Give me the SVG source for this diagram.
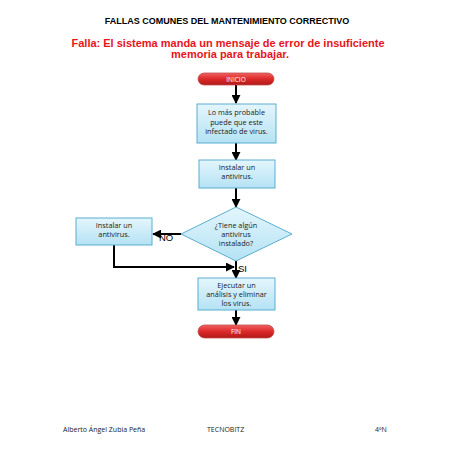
<svg xmlns="http://www.w3.org/2000/svg" width="453" height="453" viewBox="0 0 453 453">
<defs>
<linearGradient id="gBox" x1="0" y1="0" x2="0" y2="1"><stop offset="0" stop-color="#e4f6fc"/><stop offset="1" stop-color="#b4e2f4"/></linearGradient>
<linearGradient id="gRed" x1="0" y1="0" x2="0" y2="1"><stop offset="0" stop-color="#f06060"/><stop offset="0.5" stop-color="#dc2a2a"/><stop offset="1" stop-color="#b01818"/></linearGradient>
<marker id="ah" viewBox="0 0 10 10" refX="9" refY="5" markerWidth="4.5" markerHeight="4.5" orient="auto"><path d="M0,0 L10,5 L0,10 z" fill="#000"/></marker>
</defs>
<style>
.box{fill:url(#gBox);stroke:#5aaed0;stroke-width:1}
.pill{fill:url(#gRed);stroke:#c0504d;stroke-width:0.8}
.t{font-family:"Open Sans","Liberation Sans",sans-serif;font-size:7.3px;fill:#1a1a1a;text-anchor:middle}
.tw{font-family:"Open Sans","Liberation Sans",sans-serif;font-size:6.5px;fill:#fff;text-anchor:middle}
.c{fill:none;stroke:#000;stroke-width:2;marker-end:url(#ah)}
.lbl{font-family:"Liberation Sans",sans-serif;font-size:9.5px;fill:#000}
.f{font-family:"Open Sans","Liberation Sans",sans-serif;font-size:7px;fill:#222}
</style>
<rect width="453" height="453" fill="#fff"/>
<text x="227" y="24" font-family="Liberation Sans,sans-serif" font-size="9" font-weight="bold" text-anchor="middle">FALLAS COMUNES DEL MANTENIMIENTO CORRECTIVO</text>
<text x="228" y="47" font-family="Liberation Sans,sans-serif" font-size="11" font-weight="bold" fill="#e8141c" text-anchor="middle">Falla: El sistema manda un mensaje de error de insuficiente</text>
<text x="230" y="58" font-family="Liberation Sans,sans-serif" font-size="11" font-weight="bold" fill="#e8141c" text-anchor="middle">memoria para trabajar.</text>

<g id="connectors">
<path class="c" d="M236,85 V103"/>
<path class="c" d="M236,143 V160"/>
<path class="c" d="M236,188 V207"/>
<path class="c" d="M181,234 H153"/>
<path class="c" d="M114,245 V267 H234"/>
<path class="c" d="M236,261 V278"/>
<path class="c" d="M236,310 V325"/>
<text class="lbl" x="159" y="241">NO</text>
<text class="lbl" x="238" y="272">SI</text>
</g>

<g id="inicio"><rect class="pill" x="198" y="73" width="76" height="12" rx="6"/><text class="tw" x="236" y="81.5">INICIO</text></g>
<g id="n1"><rect class="box" x="197" y="104" width="79" height="39"/><text class="t" x="236.5" y="115">Lo más probable</text><text class="t" x="236.5" y="124.5">puede que este</text><text class="t" x="236.5" y="134">infectado de virus.</text></g>
<g id="n2"><rect class="box" x="199" y="160" width="76" height="28"/><text class="t" x="237" y="170">Instalar un</text><text class="t" x="237" y="179">antivirus.</text></g>
<g id="dec"><polygon class="box" points="236,207 292,234 236,261 181,234"/><text class="t" x="236" y="228">¿Tiene algún</text><text class="t" x="236" y="237">antivirus</text><text class="t" x="236" y="246">instalado?</text></g>
<g id="n3"><rect class="box" x="76" y="218" width="76" height="27"/><text class="t" x="114" y="228">Instalar un</text><text class="t" x="114" y="237">antivirus.</text></g>
<g id="n4"><rect class="box" x="198" y="278" width="77" height="32"/><text class="t" x="236.5" y="288">Ejecutar un</text><text class="t" x="236.5" y="297">análisis y eliminar</text><text class="t" x="236.5" y="306">los virus.</text></g>
<g id="fin"><rect class="pill" x="198" y="325" width="76" height="13" rx="6.5"/><text class="tw" x="236" y="334">FIN</text></g>

<text class="f" x="63" y="432">Alberto Ángel Zubia Peña</text>
<text class="f" x="207" y="432">TECNOBITZ</text>
<text class="f" x="375" y="432">4ºN</text>
</svg>
